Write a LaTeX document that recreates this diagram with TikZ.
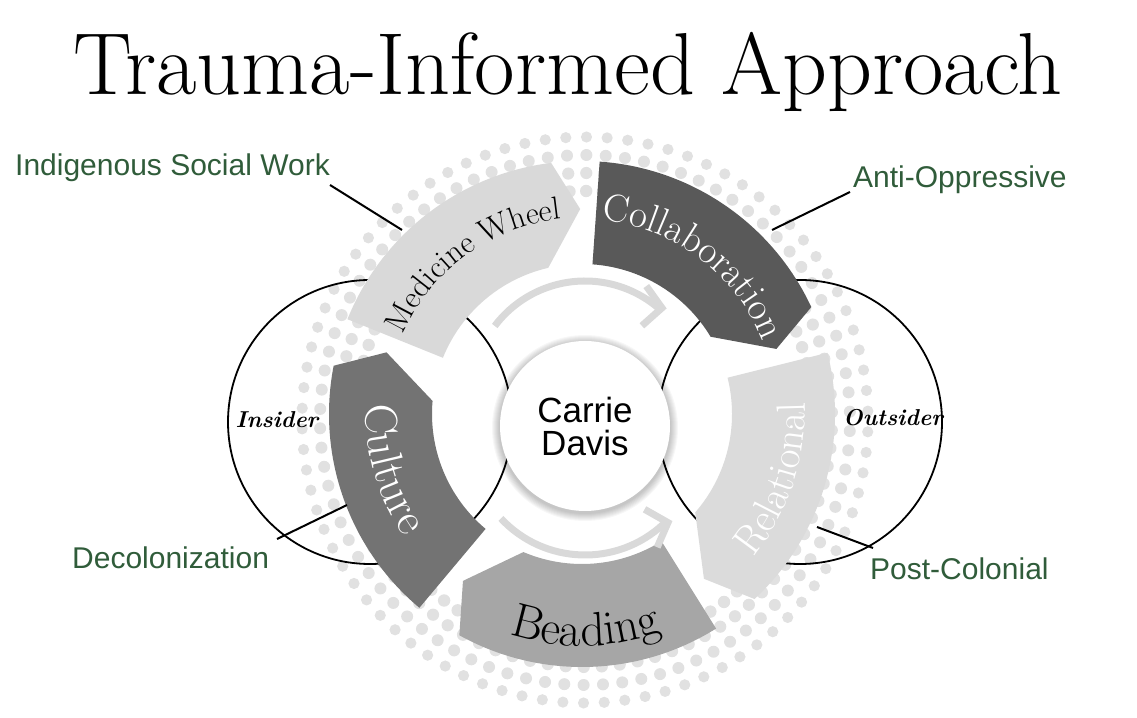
\documentclass[tikz,border=0pt]{standalone}
\usepackage{fontspec}
\usetikzlibrary{arrows.meta,decorations.text}

\newfontfamily\sansfont{Liberation Sans}
\newcommand\titlesize{\fontsize{88}{88}\selectfont}
\newcommand\mwsize{\fontsize{32}{32}\selectfont}
\newcommand\colsize{\fontsize{39}{39}\selectfont}
\newcommand\relsize{\fontsize{41}{41}\selectfont}
\newcommand\beadsize{\fontsize{48}{48}\selectfont}
\newcommand\culsize{\fontsize{46}{46}\selectfont}

\definecolor{leafgreen}{RGB}{48,92,58}
\definecolor{dotgray}{RGB}{225,225,225}
\definecolor{mwgray}{RGB}{217,217,217}
\definecolor{colgray}{RGB}{89,89,89}
\definecolor{relgray}{RGB}{219,219,219}
\definecolor{beadgray}{RGB}{166,166,166}
\definecolor{culgray}{RGB}{115,115,115}
\definecolor{arrowgray}{RGB}{217,217,217}

\tikzset{
  ring/.style={circle, draw=black, line width=1.8pt, minimum size=284pt, inner sep=0pt},
  leader/.style={draw=black, line width=2pt},
  sidelabel/.style={font=\sansfont\fontsize{30}{30}\selectfont, text=leafgreen, anchor=base west, inner sep=0pt},
  scriptlabel/.style={font=\bfseries\itshape\fontsize{23}{23}\selectfont, inner sep=0pt},
  flow/.style={draw=arrowgray, line width=7pt, -{Straight Barb[length=18pt, width=40pt]}},
  hubdisc/.style={circle, fill=white, minimum size=170pt, inner sep=0pt, align=center,
    font=\sansfont\fontsize{35}{33}\selectfont},
}

\begin{document}
\begin{tikzpicture}[x=1pt, y=1pt]
  \useasboundingbox (0,0) rectangle (1137,717);

  % halftone ring of dots
  \begin{scope}[shift={(585,297)}]
    \foreach \rad/\dsz in {229/6.2, 247/6.1, 265/6, 283/5.6}
      \foreach \i in {1,...,86}
        \fill[dotgray] ({1.8+\i/86*360}:\rad) circle (\dsz);
  \end{scope}

  % insider / outsider circles
  \node[ring] (inring) at (370,295) {};
  \node[ring] (outring) at (800,295) {};

  % the five arrow segments
  \begin{scope}[shift={(582,303)}]
    \foreach \s/\col in {158/mwgray, 86/colgray, 14/relgray, -58/beadgray, -130/culgray}
      \fill[\col] (\s:253) arc[start angle=\s, end angle=\s-61, radius=253]
        -- (\s-67.5:205) -- (\s-55:150)
        arc[start angle=\s-55, end angle=\s, radius=150] -- cycle;

    \path[decorate, decoration={text along path, text align=center,
        text={|\mwsize|Medicine Wheel}}]
      (166:196) arc[start angle=166, end angle=86, radius=196];
    \path[decorate, decoration={text along path, text align=center, text color=white,
        text={|\colsize|Collaboration}}]
      (93:195) arc[start angle=93, end angle=13, radius=195];
    \path[decorate, decoration={text along path, text align=center, text color=white,
        text={|\relsize|Relational}}]
      (-55:223) arc[start angle=-55, end angle=18, radius=223];
    \path[decorate, decoration={text along path, text align=center,
        text={|\beadsize|Beading}}]
      (-122:232) arc[start angle=-122, end angle=-56, radius=232];
    \path[decorate, decoration={text along path, text align=center, text color=white,
        text={|\culsize|Culture}}]
      (168:216) arc[start angle=168, end angle=224, radius=216];
  \end{scope}

  % inner flow arrows
  \draw[flow] (585,323) ++(143:113) arc[start angle=143, end angle=50, radius=113] -- ++(9,-1);
  \draw[flow] (585,277) ++(-137:115) arc[start angle=-137, end angle=-47, radius=115] -- ++(9,3);

  % centre
  \coordinate (hub) at (585,291);
  \foreach \k in {1,...,8}
    \fill[black, opacity=0.03] ([yshift=-2pt]hub) circle (85+\k);
  \node[hubdisc] (carrie) at (hub) {Carrie\\Davis};

  \node[scriptlabel] (insider) at (277,297) {Insider};
  \node[scriptlabel] (outsider) at (893,299) {Outsider};

  % side labels and leaders
  \node[sidelabel] (isw) at (15,541) {Indigenous Social Work};
  \node[sidelabel] (aop) at (853,529) {Anti-Oppressive};
  \node[sidelabel] (decol) at (72,148) {Decolonization};
  \node[sidelabel] (postcol) at (870,137) {Post-Colonial};
  \coordinate (isw-a) at (330,532);
  \coordinate (isw-b) at (402,487);
  \coordinate (aop-a) at (850,525);
  \coordinate (aop-b) at (772,487);
  \coordinate (decol-a) at (277,178);
  \coordinate (decol-b) at (347,212);
  \coordinate (postcol-a) at (873,169);
  \coordinate (postcol-b) at (817,190);
  \draw[leader] (isw-a) -- (isw-b);
  \draw[leader] (aop-a) -- (aop-b);
  \draw[leader] (decol-a) -- (decol-b);
  \draw[leader] (postcol-a) -- (postcol-b);

  % title
  \node[font=\titlesize, anchor=base, inner sep=0pt] (title) at (568,622)
    {Trauma-Informed Approach};
\end{tikzpicture}
\end{document}
